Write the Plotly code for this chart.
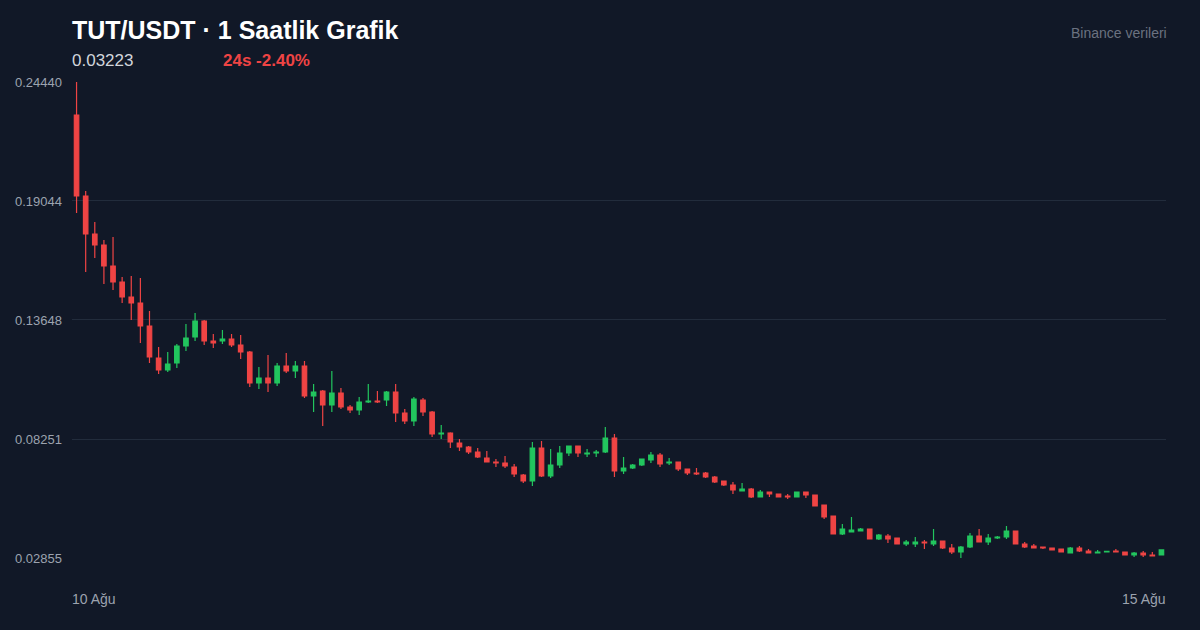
import plotly.graph_objects as go

# ---- data (1h candles, 10 Ağu -> 15 Ağu) ----
opens = [0.22944, 0.19270, 0.17547, 0.17048, 0.16096, 0.15371, 0.14690, 0.14418, 0.13375, 0.11924,
         0.11380, 0.11698, 0.12468, 0.12877, 0.13602, 0.12695, 0.12695, 0.12786, 0.12514, 0.12196,
         0.10791, 0.11017, 0.10791, 0.11561, 0.11335, 0.11561, 0.10201, 0.10428, 0.09793, 0.10337,
         0.09702, 0.09566, 0.09929, 0.09974, 0.10020, 0.10382, 0.09430, 0.09067, 0.10020, 0.09476,
         0.08478, 0.08523, 0.08070, 0.07888, 0.07662, 0.07390, 0.07208, 0.07163, 0.06981, 0.06619,
         0.06347, 0.07843, 0.06573, 0.07072, 0.07616, 0.07934, 0.07571, 0.07616, 0.07662, 0.08296,
         0.06800, 0.06936, 0.07072, 0.07299, 0.07526, 0.07163, 0.07208, 0.06891, 0.06709, 0.06709,
         0.06528, 0.06347, 0.06165, 0.05893, 0.05984, 0.05621, 0.05848, 0.05757, 0.05666, 0.05621,
         0.05848, 0.05712, 0.05258, 0.04759, 0.03943, 0.04034, 0.04079, 0.04170, 0.03716, 0.03852,
         0.03762, 0.03490, 0.03490, 0.03580, 0.03490, 0.03626, 0.03308, 0.03127, 0.03354, 0.03852,
         0.03580, 0.03762, 0.03807, 0.04079, 0.03490, 0.03399, 0.03354, 0.03308, 0.03263, 0.03082,
         0.03308, 0.03172, 0.03082, 0.03127, 0.03172, 0.03127, 0.02991, 0.03082, 0.02991, 0.02991]
highs = [0.24440, 0.19497, 0.18091, 0.17275, 0.17411, 0.15597, 0.15643, 0.15552, 0.14056, 0.12423,
         0.12196, 0.12559, 0.13466, 0.13965, 0.13647, 0.13013, 0.13194, 0.13013, 0.12967, 0.12242,
         0.11516, 0.12060, 0.11698, 0.12151, 0.11788, 0.11788, 0.10745, 0.10473, 0.11335, 0.10564,
         0.09793, 0.10156, 0.10745, 0.10428, 0.10428, 0.10745, 0.09612, 0.10156, 0.10110, 0.09521,
         0.08886, 0.08560, 0.08251, 0.07934, 0.07843, 0.07707, 0.07344, 0.07480, 0.07117, 0.06664,
         0.08115, 0.08160, 0.07798, 0.07934, 0.07934, 0.07950, 0.07798, 0.07752, 0.08795, 0.08478,
         0.07435, 0.07117, 0.07344, 0.07662, 0.07616, 0.07390, 0.07230, 0.06910, 0.06936, 0.06755,
         0.06573, 0.06360, 0.06301, 0.06256, 0.06029, 0.05938, 0.05860, 0.05770, 0.05757, 0.05860,
         0.05860, 0.05720, 0.05270, 0.04770, 0.04397, 0.04714, 0.04215, 0.04180, 0.03943, 0.03943,
         0.03770, 0.03671, 0.03807, 0.03671, 0.04170, 0.03640, 0.03490, 0.03399, 0.03989, 0.04170,
         0.03943, 0.03852, 0.04306, 0.04090, 0.03580, 0.03490, 0.03360, 0.03320, 0.03270, 0.03354,
         0.03399, 0.03263, 0.03218, 0.03172, 0.03263, 0.03140, 0.03127, 0.03172, 0.03127, 0.03223]
lows = [0.18500, 0.15824, 0.16459, 0.15280, 0.15008, 0.14418, 0.13647, 0.12604, 0.11698, 0.11199,
        0.11289, 0.11471, 0.12242, 0.12695, 0.12514, 0.12378, 0.12559, 0.12423, 0.11879, 0.10609,
        0.10518, 0.10382, 0.10655, 0.11244, 0.11017, 0.10110, 0.09476, 0.08841, 0.09476, 0.09612,
        0.09430, 0.09339, 0.09884, 0.09884, 0.09748, 0.09022, 0.08931, 0.08841, 0.09294, 0.08342,
        0.08251, 0.07843, 0.07707, 0.07571, 0.07390, 0.07208, 0.06981, 0.06936, 0.06528, 0.06256,
        0.06120, 0.06528, 0.06483, 0.06936, 0.07480, 0.07435, 0.07435, 0.07435, 0.07616, 0.06528,
        0.06664, 0.06891, 0.07027, 0.07163, 0.06981, 0.07072, 0.06800, 0.06619, 0.06619, 0.06483,
        0.06256, 0.06120, 0.05757, 0.05893, 0.05576, 0.05621, 0.05621, 0.05621, 0.05530, 0.05610,
        0.05576, 0.05200, 0.04623, 0.03930, 0.03898, 0.04034, 0.04079, 0.03700, 0.03671, 0.03535,
        0.03490, 0.03399, 0.03354, 0.03263, 0.03399, 0.03263, 0.03036, 0.02855, 0.03308, 0.03580,
        0.03444, 0.03716, 0.03716, 0.03490, 0.03308, 0.03308, 0.03263, 0.03218, 0.03127, 0.03082,
        0.03127, 0.03082, 0.03082, 0.03127, 0.03127, 0.02991, 0.02900, 0.02900, 0.02946, 0.02991]
closes = [0.19270, 0.17547, 0.17048, 0.16096, 0.15371, 0.14690, 0.14418, 0.13375, 0.11970, 0.11380,
          0.11652, 0.12468, 0.12831, 0.13602, 0.12695, 0.12604, 0.12786, 0.12514, 0.12196, 0.10791,
          0.11017, 0.10791, 0.11561, 0.11335, 0.11561, 0.10201, 0.10382, 0.09793, 0.10337, 0.09702,
          0.09566, 0.09929, 0.09974, 0.09929, 0.10382, 0.09430, 0.09067, 0.10065, 0.09476, 0.08478,
          0.08523, 0.08115, 0.07888, 0.07662, 0.07435, 0.07208, 0.07163, 0.07027, 0.06664, 0.06347,
          0.07843, 0.06573, 0.07072, 0.07616, 0.07934, 0.07616, 0.07616, 0.07662, 0.08296, 0.06800,
          0.06936, 0.07072, 0.07344, 0.07526, 0.07117, 0.07208, 0.06891, 0.06709, 0.06664, 0.06528,
          0.06301, 0.06165, 0.05938, 0.05984, 0.05621, 0.05848, 0.05757, 0.05621, 0.05621, 0.05848,
          0.05712, 0.05213, 0.04714, 0.03943, 0.04170, 0.04125, 0.04170, 0.03716, 0.03898, 0.03716,
          0.03490, 0.03580, 0.03580, 0.03535, 0.03626, 0.03308, 0.03127, 0.03354, 0.03852, 0.03580,
          0.03762, 0.03807, 0.04079, 0.03490, 0.03354, 0.03308, 0.03308, 0.03218, 0.03127, 0.03308,
          0.03172, 0.03082, 0.03127, 0.03160, 0.03127, 0.02991, 0.03082, 0.02991, 0.02946, 0.03223]

y_ticks = [0.02855, 0.08251, 0.13648, 0.19044, 0.24440]
y_tick_labels = ["0.02855", "0.08251", "0.13648", "0.19044", "0.24440"]
x_labels = ["10 Ağu", "15 Ağu"]

title_text = "TUT/USDT · 1 Saatlik Grafik"
last_price = "0.03223"
change_text = "24s -2.40%"
source_text = "Binance verileri"

BG = "#111827"
UP = "#22c55e"
DOWN = "#ef4444"
FONT = "Liberation Sans, Arial, Helvetica, sans-serif"

idx = list(range(len(opens)))

fig = go.Figure(go.Candlestick(
    x=idx, open=opens, high=highs, low=lows, close=closes,
    increasing=dict(line=dict(color=UP, width=1.2), fillcolor=UP),
    decreasing=dict(line=dict(color=DOWN, width=1.2), fillcolor=DOWN),
    whiskerwidth=0,
    showlegend=False,
))

fig.update_layout(
    width=1200, height=630,
    paper_bgcolor=BG, plot_bgcolor=BG,
    margin=dict(l=72, r=34, t=82, b=72),
    font=dict(family=FONT, color="#9ca3af"),
    xaxis=dict(range=[-0.5, len(opens) - 0.5], showgrid=False, zeroline=False,
               showticklabels=False, rangeslider=dict(visible=False), fixedrange=True),
    yaxis=dict(range=[y_ticks[0], y_ticks[-1]], tickvals=y_ticks, ticktext=y_tick_labels,
               showgrid=True, gridcolor="#222c3c", gridwidth=1, zeroline=False,
               showline=False, ticks="", ticklabelstandoff=9,
               tickfont=dict(size=13, color="#9ca3af")),
)

def ann(text, x, y, xanchor, size, color, bold=False):
    fig.add_annotation(text=f"<b>{text}</b>" if bold else text, x=x, y=y,
                       xref="paper", yref="paper", xanchor=xanchor, yanchor="middle",
                       showarrow=False, font=dict(family=FONT, size=size, color=color))

ann(title_text, -0.002, 1.1092, "left", 25, "#ffffff", bold=True)
ann(last_price, -0.002, 1.0462, "left", 17, "#d1d5db")
ann(change_text, 0.1361, 1.0462, "left", 17, DOWN, bold=True)
ann(source_text, 1.0025, 1.1029, "right", 14, "#6b7280")
ann(x_labels[0], -0.002, -0.0861, "left", 14, "#9ca3af")
ann(x_labels[1], 1.0022, -0.0861, "right", 14, "#9ca3af")

fig.write_html(
    "out.html",
    config={"displayModeBar": False},
    post_script="document.body.style.margin='0';document.body.style.background='#111827';",
)
